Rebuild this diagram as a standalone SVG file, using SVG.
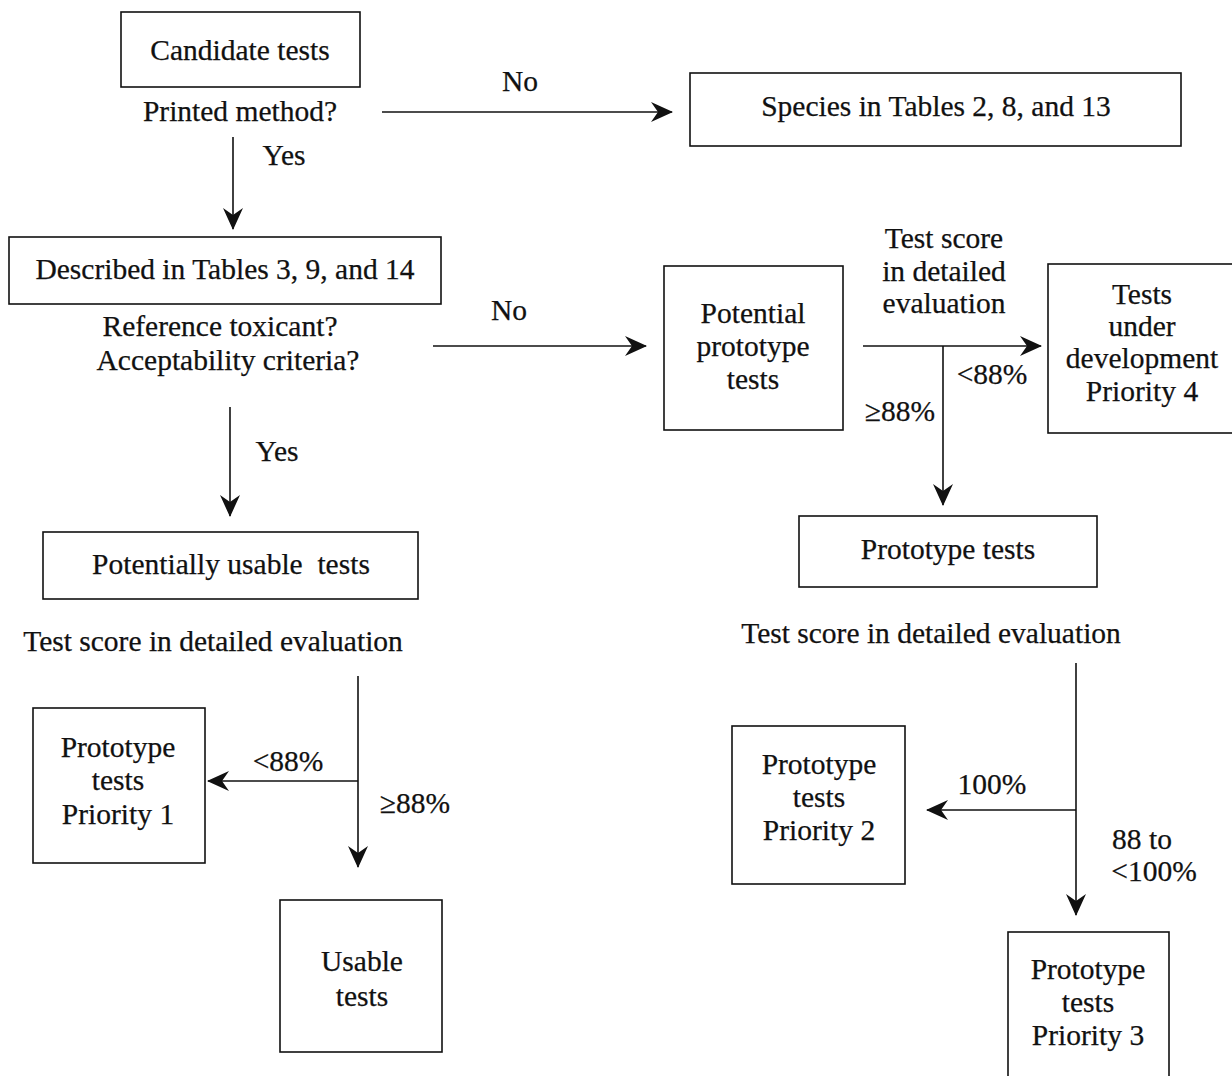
<svg xmlns="http://www.w3.org/2000/svg" width="1232" height="1076" viewBox="0 0 1232 1076">
<style>
text{font-family:"Liberation Serif","Times New Roman",serif;font-size:29.5px;fill:#111;stroke:#111;stroke-width:0.25;}
.c{text-anchor:middle;}
.box{fill:#fff;stroke:#111;stroke-width:1.6;}
.ln{stroke:#111;stroke-width:1.6;fill:none;}
.a{marker-end:url(#ah);}
</style>
<defs>
<marker id="ah" viewBox="0 0 22 20" refX="21" refY="10" markerWidth="22" markerHeight="20" markerUnits="userSpaceOnUse" orient="auto">
<path d="M0,0 L22,10 L0,20 L7,10 z" fill="#111"/>
</marker>
</defs>
<rect width="1232" height="1076" fill="#fff"/>
<g id="connectors">
<line class="ln a" x1="382" y1="112" x2="672" y2="112"/>
<line class="ln a" x1="233" y1="137" x2="233" y2="229"/>
<line class="ln a" x1="433" y1="346" x2="646" y2="346"/>
<line class="ln a" x1="230" y1="407" x2="230" y2="516"/>
<line class="ln a" x1="863" y1="346" x2="1041" y2="346"/>
<line class="ln a" x1="943" y1="346" x2="943" y2="505"/>
<line class="ln a" x1="358" y1="676" x2="358" y2="867"/>
<line class="ln a" x1="358" y1="781" x2="208" y2="781"/>
<line class="ln a" x1="1076" y1="663" x2="1076" y2="915"/>
<line class="ln a" x1="1076" y1="810" x2="927" y2="810"/>
<text x="520" y="91" class="c">No</text>
<text x="284" y="165" class="c">Yes</text>
<text x="509" y="320" class="c">No</text>
<text x="277" y="461" class="c">Yes</text>
<text x="944" y="248" class="c">Test score</text>
<text x="944" y="281" class="c">in detailed</text>
<text x="944" y="313" class="c">evaluation</text>
<text x="992" y="384" class="c">&lt;88%</text>
<text x="900" y="421" class="c">≥88%</text>
<text x="213" y="651" class="c">Test score in detailed evaluation</text>
<text x="288" y="771" class="c">&lt;88%</text>
<text x="415" y="813" class="c">≥88%</text>
<text x="931" y="643" class="c">Test score in detailed evaluation</text>
<text x="992" y="794" class="c">100%</text>
<text x="1142" y="849" class="c">88 to</text>
<text x="1154" y="881" class="c">&lt;100%</text>
<text x="240" y="121" class="c">Printed method?</text>
<text x="220" y="336" class="c">Reference toxicant?</text>
<text x="228" y="370" class="c">Acceptability criteria?</text>
</g>
<g id="candidate">
<rect class="box" x="121" y="12" width="239" height="75"/>
<text x="240" y="60" class="c">Candidate tests</text>
</g>
<g id="species">
<rect class="box" x="690" y="73" width="491" height="73"/>
<text x="936" y="116" class="c">Species in Tables 2, 8, and 13</text>
</g>
<g id="described">
<rect class="box" x="9" y="237" width="432" height="67"/>
<text x="225" y="279" class="c">Described in Tables 3, 9, and 14</text>
</g>
<g id="potential">
<rect class="box" x="664" y="266" width="179" height="164"/>
<text x="753" y="323" class="c">Potential</text>
<text x="753" y="356" class="c">prototype</text>
<text x="753" y="389" class="c">tests</text>
</g>
<g id="underdev">
<rect class="box" x="1048" y="264" width="190" height="169"/>
<text x="1142" y="304" class="c">Tests</text>
<text x="1142" y="336" class="c">under</text>
<text x="1142" y="368" class="c">development</text>
<text x="1142" y="401" class="c">Priority 4</text>
</g>
<g id="prototype">
<rect class="box" x="799" y="516" width="298" height="71"/>
<text x="948" y="559" class="c">Prototype tests</text>
</g>
<g id="potentially">
<rect class="box" x="43" y="532" width="375" height="67"/>
<text x="231" y="574" class="c" xml:space="preserve">Potentially usable  tests</text>
</g>
<g id="priority1">
<rect class="box" x="33" y="708" width="172" height="155"/>
<text x="118" y="757" class="c">Prototype</text>
<text x="118" y="790" class="c">tests</text>
<text x="118" y="824" class="c">Priority 1</text>
</g>
<g id="usable">
<rect class="box" x="280" y="900" width="162" height="152"/>
<text x="362" y="971" class="c">Usable</text>
<text x="362" y="1006" class="c">tests</text>
</g>
<g id="priority2">
<rect class="box" x="732" y="726" width="173" height="158"/>
<text x="819" y="774" class="c">Prototype</text>
<text x="819" y="807" class="c">tests</text>
<text x="819" y="840" class="c">Priority 2</text>
</g>
<g id="priority3">
<rect class="box" x="1008" y="932" width="161" height="160"/>
<text x="1088" y="979" class="c">Prototype</text>
<text x="1088" y="1012" class="c">tests</text>
<text x="1088" y="1045" class="c">Priority 3</text>
</g>
</svg>
